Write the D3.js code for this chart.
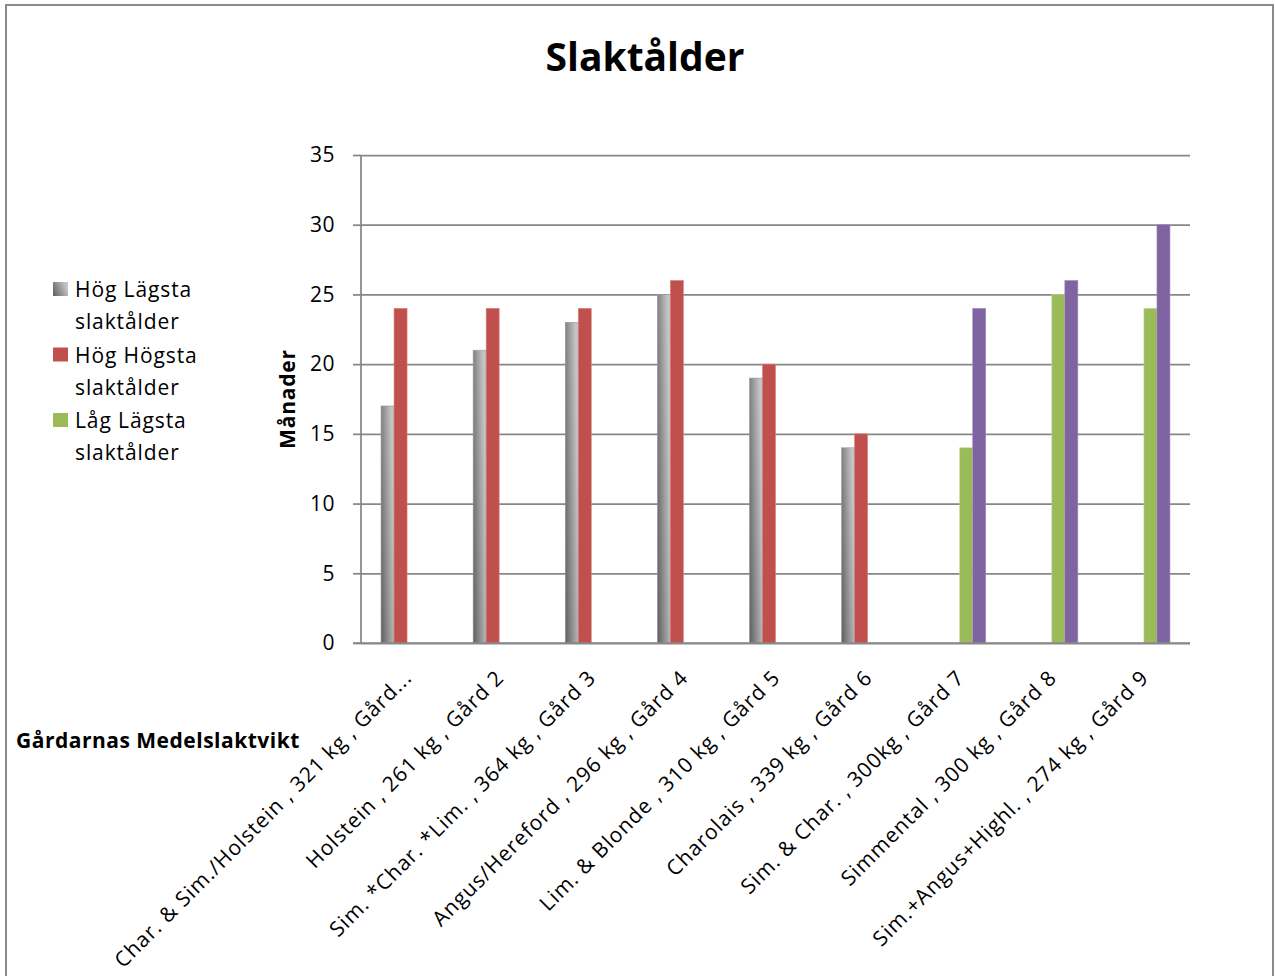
<!DOCTYPE html>
<html>
<head>
<meta charset="utf-8">
<script src="https://cdn.jsdelivr.net/npm/d3@7"></script>
<style>
	body { margin : 0; background : #fff; }
	svg text { font-family : 'Open Sans', sans-serif; fill : #000; }
</style>
</head>
<body>
<div id="chart"></div>
<script>
const categories = ['Char. & Sim./Holstein , 321 kg , Gård...',
					'Holstein , 261 kg , Gård 2',
					'Sim. *Char. *Lim. , 364 kg , Gård 3',
					'Angus/Hereford , 296 kg , Gård 4',
					'Lim. & Blonde , 310 kg , Gård 5',
					'Charolais , 339 kg , Gård 6',
					'Sim. & Char. , 300kg , Gård 7',
					'Simmental , 300 kg , Gård 8',
					'Sim.+Angus+Highl. , 274 kg , Gård 9'];

const seriesNames = ['Hög Lägsta slaktålder', 'Hög Högsta slaktålder', 'Låg Lägsta slaktålder', 'Låg Högsta slaktålder'];

const hogLagsta = [17, 21, 23, 25, 19, 14, null, null, null];
const hogHogsta = [24, 24, 24, 26, 20, 15, null, null, null];
const lagLagsta = [null, null, null, null, null, null, 14, 25, 24];
const lagHogsta = [null, null, null, null, null, null, 24, 26, 30];

const yTicks = [0, 5, 10, 15, 20, 25, 30, 35];

const seriesValues = [hogLagsta, hogHogsta, lagLagsta, lagHogsta];
const colors       = ['url(#grayGrad)', '#c0504d', '#9bbb59', '#8064a2'];
const edgeColors   = ['#9a9a9a', '#e0807d', '#bdd88f', '#a28bc0'];

const width  = 1275;
const height = 976;

const margin = { left : 361, right : 1190, top : 155, bottom : 643 };

const svg = d3.select( '#chart' )
			  .append( 'svg' )
			  .attr( 'width', width )
			  .attr( 'height', height );

const defs = svg.append( 'defs' );
const grad = defs.append( 'linearGradient' )
				 .attr( 'id', 'grayGrad' )
				 .attr( 'x1', 0 ).attr( 'y1', 1 )
				 .attr( 'x2', 1 ).attr( 'y2', 0.6 );
grad.append( 'stop' ).attr( 'offset', 0 ).attr( 'stop-color', '#5e5e5e' );
grad.append( 'stop' ).attr( 'offset', 1 ).attr( 'stop-color', '#c4c4c4' );

// outer frame
svg.append( 'rect' )
   .attr( 'x', 6 )
   .attr( 'y', 5 )
   .attr( 'width', 1267 )
   .attr( 'height', 1000 )
   .attr( 'fill', 'none' )
   .attr( 'stroke', '#8a8a8a' )
   .attr( 'stroke-width', 2 );

const x = d3.scaleBand()
			.domain( categories )
			.range( [margin.left, margin.right] );

const x1 = d3.scaleBand()
			 .domain( seriesNames )
			 .range( [0, x.bandwidth()] )
			 .paddingOuter( 1.54 );

const y = d3.scaleLinear()
			.domain( [0, 35] )
			.range( [margin.bottom, margin.top] );

// gridlines
const grid = svg.append( 'g' )
				.attr( 'transform', `translate(${margin.left},0)` )
				.call( d3.axisLeft( y ).tickValues( yTicks ).tickSize( -( margin.right - margin.left ) ).tickFormat( '' ) );
grid.select( '.domain' ).remove();
grid.selectAll( 'line' ).attr( 'stroke', '#878787' ).attr( 'stroke-width', 1.75 );

// bars
const groups = svg.append( 'g' )
				  .selectAll( 'g' )
				  .data( seriesValues )
				  .enter()
				  .append( 'g' )
				  .attr( 'fill', ( d, i ) => colors[i] );

groups.each( function ( vals, s ) {
	d3.select( this )
	  .selectAll( 'rect' )
	  .data( vals.map( ( v, i ) => ( { v, c : categories[i] } ) ).filter( d => d.v !== null ) )
	  .enter()
	  .append( 'rect' )
	  .attr( 'x', d => x( d.c ) + x1( seriesNames[s] ) )
	  .attr( 'y', d => y( d.v ) )
	  .attr( 'width', x1.bandwidth() )
	  .attr( 'height', d => y( 0 ) - y( d.v ) )
	  .attr( 'stroke', edgeColors[s] )
	  .attr( 'stroke-width', 0.6 );
} );

// y axis
const yAxis = svg.append( 'g' )
				 .attr( 'transform', `translate(${margin.left},0)` )
				 .call( d3.axisLeft( y ).tickValues( yTicks ).tickSize( 8 ).tickPadding( 18 ) );
yAxis.select( '.domain' ).attr( 'stroke', '#878787' ).attr( 'stroke-width', 1.75 ).attr( 'd', `M0,${margin.top}V${margin.bottom}` );
yAxis.selectAll( 'line' ).attr( 'stroke', '#878787' ).attr( 'stroke-width', 1.75 );
yAxis.selectAll( 'text' )
	 .attr( 'font-size', '21px' )
	 .attr( 'letter-spacing', '0.5px' )
	 .attr( 'font-family', '"Open Sans", sans-serif' );

// x axis
const xAxis = svg.append( 'g' )
				 .attr( 'transform', `translate(0,${margin.bottom})` )
				 .call( d3.axisBottom( x ).tickSize( 0 ).tickPadding( 0 ) );
xAxis.select( '.domain' ).attr( 'stroke', '#878787' ).attr( 'stroke-width', 1.75 ).attr( 'd', `M${margin.left - 8},0H${margin.right}` );
xAxis.selectAll( 'text' )
	 .attr( 'font-size', '21px' )
	 .attr( 'letter-spacing', '1px' )
	 .attr( 'font-family', '"Open Sans", sans-serif' )
	 .attr( 'text-anchor', 'end' )
	 .attr( 'dy', 0 )
	 .attr( 'transform', 'translate(6,36) rotate(-45)' );

// titles
svg.append( 'text' )
   .attr( 'x', 645 )
   .attr( 'y', 71 )
   .attr( 'text-anchor', 'middle' )
   .attr( 'font-size', '39px' )
   .attr( 'font-weight', 'bold' )
   .text( 'Slaktålder' );

svg.append( 'text' )
   .attr( 'transform', 'translate(295,399) rotate(-90)' )
   .attr( 'text-anchor', 'middle' )
   .attr( 'font-size', '21px' )
   .attr( 'letter-spacing', '0.8px' )
   .attr( 'font-weight', 'bold' )
   .text( 'Månader' );

svg.append( 'text' )
   .attr( 'x', 16 )
   .attr( 'y', 748 )
   .attr( 'font-size', '21px' )
   .attr( 'letter-spacing', '0.5px' )
   .attr( 'font-weight', 'bold' )
   .text( 'Gårdarnas Medelslaktvikt' );

// legend (only three entries fit)
const legend = svg.append( 'g' )
				  .selectAll( 'g' )
				  .data( seriesNames.slice( 0, 3 ) )
				  .enter()
				  .append( 'g' )
				  .attr( 'transform', ( d, i ) => `translate(53,${297 + i * 65.5})` );

legend.append( 'rect' )
	  .attr( 'x', 0 )
	  .attr( 'y', -15 )
	  .attr( 'width', 15 )
	  .attr( 'height', 14 )
	  .attr( 'fill', ( d, i ) => colors[i] );

legend.append( 'text' )
	  .attr( 'x', 22 )
	  .attr( 'font-size', '21px' )
	  .attr( 'letter-spacing', '0.9px' )
	  .each( function ( d ) {
		const cut = d.lastIndexOf( ' ' );
		d3.select( this ).append( 'tspan' ).attr( 'x', 22 ).attr( 'dy', 0 ).text( d.slice( 0, cut ) );
		d3.select( this ).append( 'tspan' ).attr( 'x', 22 ).attr( 'dy', 32 ).text( d.slice( cut + 1 ) );
	  } );
</script>
</body>
</html>
